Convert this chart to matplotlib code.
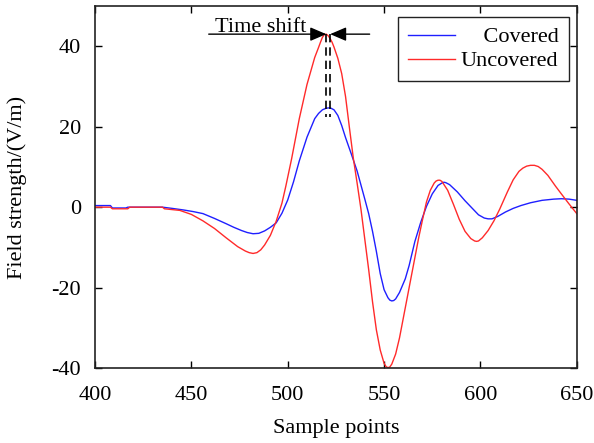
import numpy as np
import matplotlib
matplotlib.use("Agg")
import matplotlib.pyplot as plt

# ==========================================
# DATA
# ==========================================

covered_x = [400, 408, 409, 416, 417, 435, 440, 446, 451, 456, 462, 468, 472,
             476, 479, 482, 485, 488, 491, 494, 497, 500, 503, 506, 510, 514,
             516, 518, 520, 522, 524, 526, 528, 530, 533, 536, 538, 540, 542,
             544, 546, 548, 550, 552, 553, 554, 555, 556, 558, 561, 563, 566,
             569, 572, 575, 578, 580, 581, 582, 584, 588, 592, 595, 599, 602,
             604, 606, 609, 613, 617, 621, 626, 632, 638, 642, 646, 650]
covered_y = [0.4, 0.4, -0.2, -0.2, 0.0, 0.0, -0.3, -0.7, -1.1, -1.6, -2.8, -4.1,
             -5.0, -5.8, -6.3, -6.6, -6.5, -5.9, -5.0, -3.9, -1.5, 1.8, 6.3,
             11.5, 17.4, 22.0, 23.3, 24.2, 24.6, 24.7, 24.2, 22.8, 20.3, 17.3,
             13.2, 9.0, 5.5, 2.0, -1.6, -6.0, -11.0, -16.5, -20.5, -22.5, -23.1,
             -23.3, -23.2, -22.8, -21.2, -17.8, -14.5, -8.5, -3.8, 0.2, 3.3,
             5.4, 6.0, 6.2, 6.1, 5.6, 3.8, 1.6, 0.1, -1.9, -2.7, -2.9, -2.9,
             -2.3, -1.2, -0.3, 0.4, 1.1, 1.7, 2.0, 2.1, 2.0, 1.7]

uncovered_x = [400, 408, 409, 417, 418, 435, 436, 444, 450, 456, 462, 468, 474,
               478, 480, 482, 484, 486, 488, 491, 494, 497, 499, 502, 506, 510,
               514, 516, 517, 518, 519, 520, 521, 522, 523, 524, 526, 528, 530,
               532, 534, 536, 538, 540, 542, 544, 546, 548, 550, 551, 552, 553,
               554, 556, 558, 560, 562, 564, 566, 568, 570, 572, 574, 576, 577,
               578, 579, 580, 583, 586, 589, 592, 595, 597, 598, 599, 601, 604,
               607, 610, 614, 617, 620, 622, 624, 626, 628, 630, 632, 635, 639,
               642, 646, 650]
uncovered_y = [0.0, 0.0, -0.4, -0.4, 0.0, 0.0, -0.4, -0.8, -1.8, -3.4, -5.3,
               -7.6, -9.8, -10.9, -11.3, -11.5, -11.3, -10.6, -9.4, -7.0, -3.5,
               1.0, 5.2, 12.0, 22.0, 30.5, 37.2, 39.7, 41.0, 42.2, 42.9, 43.0,
               42.6, 41.9, 41.0, 39.8, 37.0, 33.2, 27.5, 19.8, 12.3, 6.0, -0.5,
               -8.0, -15.5, -23.5, -30.5, -35.5, -38.8, -39.6, -39.9, -39.7,
               -39.0, -36.5, -32.5, -27.5, -22.5, -17.5, -12.5, -7.5, -3.0, 1.3,
               4.2, 6.0, 6.5, 6.7, 6.7, 6.4, 4.2, 0.7, -3.0, -6.0, -7.8, -8.4,
               -8.5, -8.4, -7.6, -5.8, -3.4, -0.5, 3.8, 6.8, 8.9, 9.7, 10.2,
               10.4, 10.4, 10.1, 9.4, 7.9, 5.2, 3.3, 0.8, -1.6]

x_ticks = [400, 450, 500, 550, 600, 650]
y_ticks = [-40, -20, 0, 20, 40]

# ==========================================
# STYLE
# ==========================================

plt.rcParams["font.family"] = ["Liberation Serif", "DejaVu Serif"]
plt.rcParams["font.size"] = 16
plt.rcParams["axes.unicode_minus"] = False

fig = plt.figure(figsize=(5.94, 4.43), dpi=100)
ax = fig.add_axes([0.16, 0.169, 0.811, 0.8175])

ax.plot(covered_x, covered_y, color="#1f1fff", lw=1.0, label="    Covered")
ax.plot(uncovered_x, uncovered_y, color="#ff2a2a", lw=1.0, label="Uncovered")

ax.set_xlim(400, 650)
ax.set_ylim(-40, 50)
ax.set_xticks(x_ticks)
ax.set_yticks(y_ticks)

ax.tick_params(direction="in", top=True, right=True, length=5, width=1,
               labelsize=16)
ax.tick_params(axis="x", pad=13)
ax.tick_params(axis="y", pad=10)
for s in ax.spines.values():
    s.set_linewidth(1.2)
    s.set_color("#222222")

ax.set_xlabel("Sample points", fontsize=16, labelpad=10)
ax.set_ylabel("Field strength/(V/m)", fontsize=16, labelpad=18)

# ==========================================
# TIME SHIFT ANNOTATION
# ==========================================

i_red = int(np.argmax(uncovered_y))
i_blue = int(np.argmax(covered_y))
x_red, y_red = uncovered_x[i_red], uncovered_y[i_red]
x_blue, y_blue = covered_x[i_blue], covered_y[i_blue]

y_bot = y_blue - 2.3
for xv in (x_red, x_blue):
    ax.plot([xv, xv], [y_red, y_bot], color="black", lw=1.2,
            dashes=[5, 3])

arrow_kw = dict(arrowstyle="-|>,head_length=0.7,head_width=0.3",
                color="black", lw=1.0, mutation_scale=14,
                shrinkA=0, shrinkB=0)
ax.annotate("", xy=(x_red, y_red), xytext=(459, y_red), arrowprops=arrow_kw)
ax.annotate("", xy=(x_blue, y_red), xytext=(542.5, y_red),
            arrowprops=arrow_kw)
ax.text(462, y_red + 0.6, "Time shift", fontsize=16, va="baseline",
        ha="left")

# ==========================================
# LEGEND
# ==========================================

leg = ax.legend(loc="upper right", bbox_to_anchor=(0.983, 0.97),
                fancybox=False, framealpha=1, edgecolor="#222222",
                handlelength=2.15, handletextpad=0.25, borderpad=0.45,
                labelspacing=0.15, fontsize=16, borderaxespad=0)
leg.get_frame().set_linewidth(1.0)

fig.savefig("out.png", dpi=100)
